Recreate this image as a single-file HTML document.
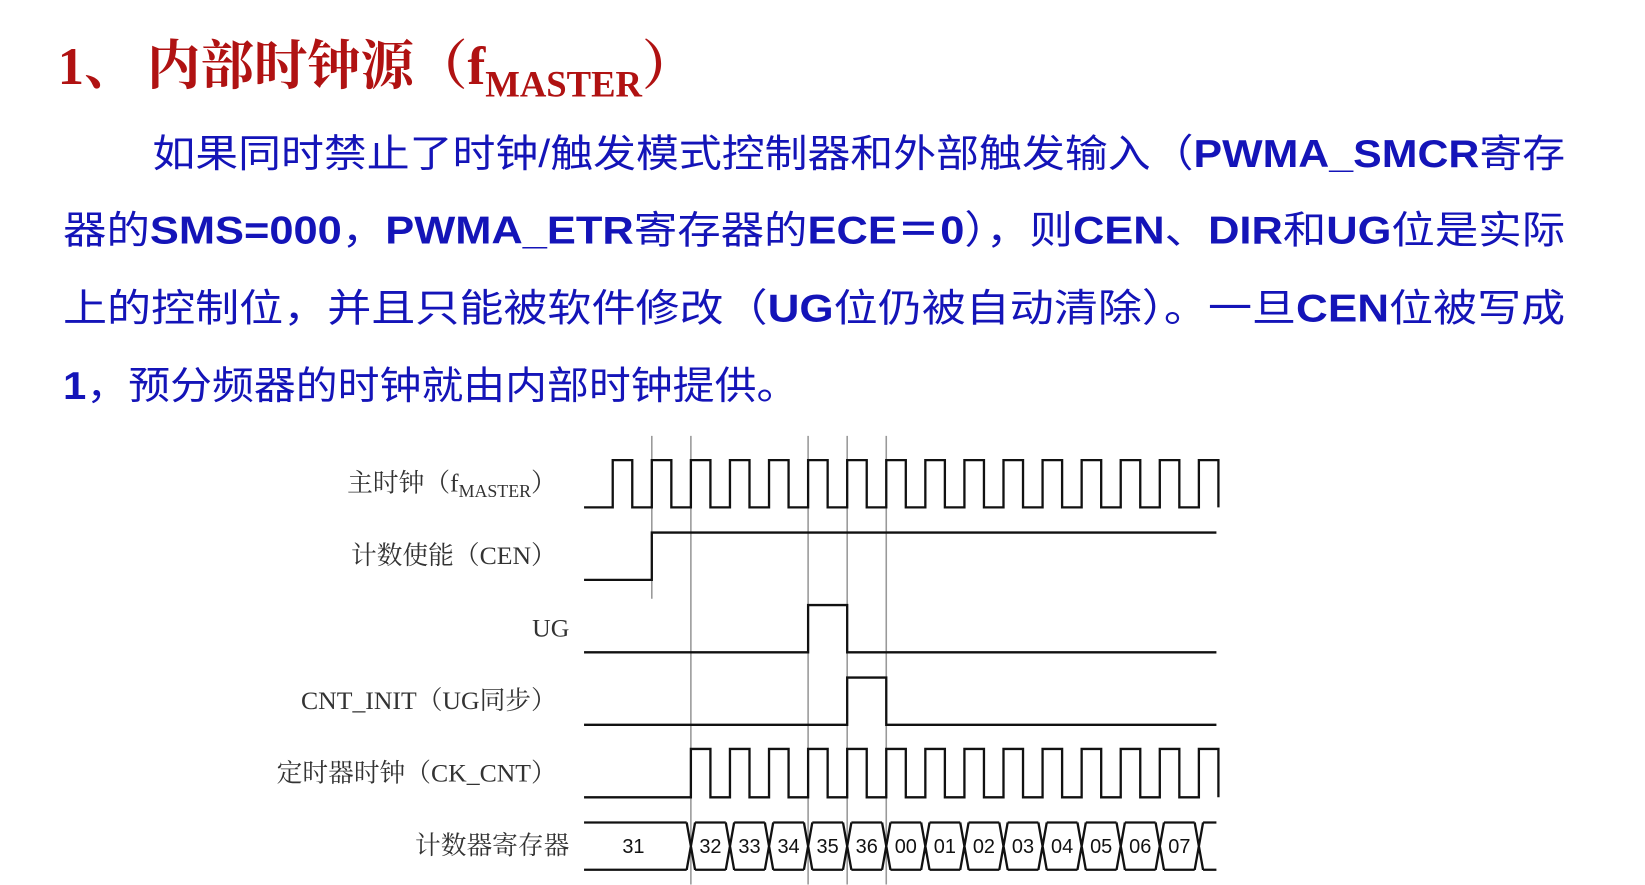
<!DOCTYPE html>
<html><head><meta charset="utf-8"><style>
html,body{margin:0;padding:0;background:#fff;width:1645px;height:885px;overflow:hidden}
svg{display:block}
.p{font-family:"Liberation Sans","Noto Sans CJK SC",sans-serif;font-size:37px;fill:#1414b8}
.b{font-weight:bold}
.lab{font-family:"Liberation Serif","Noto Serif CJK SC",serif;font-size:24.5px;fill:#333}
.num{font-family:"Liberation Sans",sans-serif;font-size:19px;fill:#111}
</style></head><body>
<svg id="s" width="1645" height="885" viewBox="0 0 1566 842.5" xmlns="http://www.w3.org/2000/svg">
<text x="55" y="80" font-family="'Liberation Serif','Noto Serif CJK SC',serif" font-weight="bold" font-size="50" fill="#b01212">1、</text>
<text x="140" y="80" textLength="522" lengthAdjust="spacingAndGlyphs" font-family="'Liberation Serif','Noto Serif CJK SC',serif" font-weight="bold" font-size="51" fill="#b01212">内部时钟源（f<tspan font-size="35" dy="12">MASTER</tspan><tspan dy="-12">）</tspan></text>
<text class="p" x="145" y="159" textLength="1345" lengthAdjust="spacingAndGlyphs">如果同时禁止了时钟/触发模式控制器和外部触发输入（<tspan class="b">PWMA_SMCR</tspan>寄存</text>
<text class="p" x="60" y="232" textLength="1430" lengthAdjust="spacingAndGlyphs">器的<tspan class="b">SMS=000</tspan>，<tspan class="b">PWMA_ETR</tspan>寄存器的<tspan class="b">ECE＝0</tspan>），则<tspan class="b">CEN</tspan>、<tspan class="b">DIR</tspan>和<tspan class="b">UG</tspan>位是实际</text>
<text class="p" x="60" y="306" textLength="1430" lengthAdjust="spacingAndGlyphs">上的控制位，并且只能被软件修改（<tspan class="b">UG</tspan>位仍被自动清除）。一旦<tspan class="b">CEN</tspan>位被写成</text>
<text class="p" x="60" y="380" textLength="700" lengthAdjust="spacingAndGlyphs"><tspan class="b">1</tspan>，预分频器的时钟就由内部时钟提供。</text>
<g class="lab" text-anchor="end">
<text x="530" y="468">主时钟（f<tspan font-size="17" dy="5">MASTER</tspan><tspan dy="-5">）</tspan></text>
<text x="530" y="537">计数使能（CEN）</text>
<text x="542" y="606">UG</text>
<text x="530" y="675">CNT_INIT（UG同步）</text>
<text x="530" y="744">定时器时钟（CK_CNT）</text>
<text x="542" y="813">计数器寄存器</text>
</g>
<g id="g" fill="none" stroke="#111" stroke-width="2.2"></g>
</svg>
<script>
var g=document.getElementById('g'),NS='http://www.w3.org/2000/svg';
function add(tag,a,par){var e=document.createElementNS(NS,tag);for(var k in a)e.setAttribute(k,a[k]);(par||g).appendChild(e);return e;}
var r0=583.3,P=37.2,H=18.6;
[[620.5,570],[657.7,842],[769.3,842],[806.5,842],[843.7,842]].forEach(function(v){add('line',{x1:v[0],y1:415,x2:v[0],y2:v[1],stroke:'#999','stroke-width':1.5});});
var d='M556 483';for(var k=0;k<16;k++){var r=r0+P*k;d+=' H'+r+' V438 H'+(r+H)+' V483';}
add('path',{d:d});
add('path',{d:'M556 552 H620.5 V507 H1158'});
add('path',{d:'M556 621 H769.3 V576 H806.5 V621 H1158'});
add('path',{d:'M556 690 H806.5 V645 H843.7 V690 H1158'});
d='M556 759';for(k=2;k<16;k++){var r=r0+P*k;d+=' H'+r+' V713 H'+(r+H)+' V759';}
add('path',{d:d});
var T=783,B=828,w=4;
var xs=[];for(k=2;k<16;k++)xs.push(r0+P*k);
d='M556 '+T+' H'+(xs[0]-w)+' M556 '+B+' H'+(xs[0]-w);
xs.forEach(function(x,i){d+=' M'+(x-w)+' '+T+' L'+(x+w)+' '+B+' M'+(x-w)+' '+B+' L'+(x+w)+' '+T;var nx=(i<xs.length-1)?xs[i+1]-w:1158;d+=' M'+(x+w)+' '+T+' H'+nx+' M'+(x+w)+' '+B+' H'+nx;});
add('path',{d:d});
var svg=document.getElementById('s');
var vals=['32','33','34','35','36','00','01','02','03','04','05','06','07'];
var t=add('text',{x:603,y:812,'class':'num','text-anchor':'middle'},svg);t.textContent='31';
vals.forEach(function(v,i){var tt=add('text',{x:xs[i]+P/2,y:812,'class':'num','text-anchor':'middle'},svg);tt.textContent=v;});
</script>
</body></html>
